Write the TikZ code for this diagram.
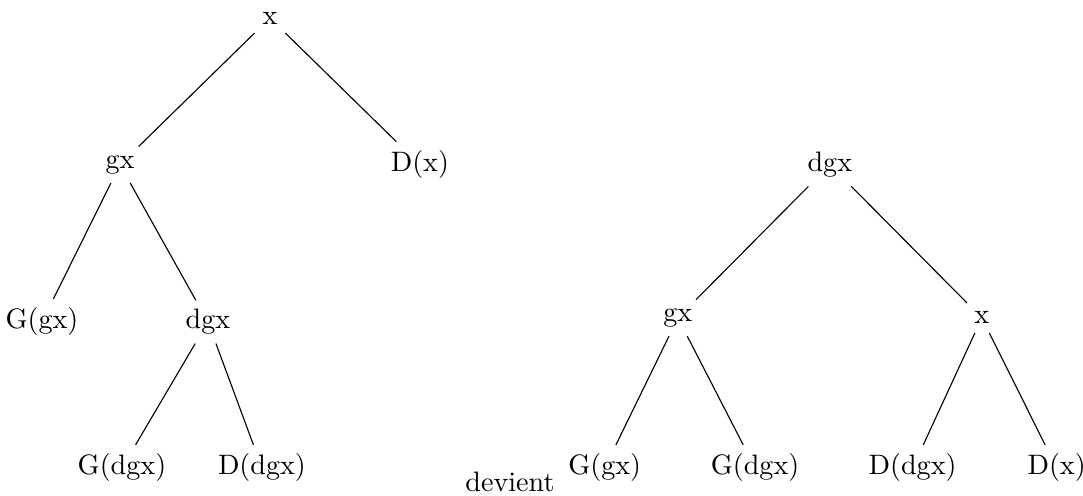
\documentclass[tikz,border=0pt]{standalone}
\usetikzlibrary{positioning}
\tikzset{
  tnode/.style={inner sep=3pt},
  edge/.style={thin}
}
\begin{document}
\begin{tikzpicture}
  \useasboundingbox (0,0) rectangle (13.54,-6.19);
  % first tree
  \node[tnode] (ax) at (3.375,-0.225) {x};
  \node[tnode] (agx) at (1.5,-2.06) {gx};
  \node[tnode] (aDx) at (5.25,-2.06) {D(x)};
  \node[tnode] (aGgx) at (0.525,-4.025) {G(gx)};
  \node[tnode] (adgx) at (2.6,-4.025) {dgx};
  \node[tnode] (aGdgx) at (1.525,-5.85) {G(dgx)};
  \node[tnode] (aDdgx) at (3.275,-5.85) {D(dgx)};

  \foreach \a/\b in {ax/agx, ax/aDx, agx/aGgx, agx/adgx, adgx/aGdgx, adgx/aDdgx}
    \draw[edge] (\a)--(\b);

  \node[tnode] (dev) at (6.375,-6.03) {devient};

  % second tree
  \node[tnode] (bdgx) at (10.375,-2.06) {dgx};
  \node[tnode] (bgx) at (8.475,-3.975) {gx};
  \node[tnode] (bx) at (12.275,-3.975) {x};
  \node[tnode] (bGgx) at (7.56,-5.85) {G(gx)};
  \node[tnode] (bGdgx) at (9.44,-5.85) {G(dgx)};
  \node[tnode] (bDdgx) at (11.41,-5.85) {D(dgx)};
  \node[tnode] (bDx) at (13.21,-5.85) {D(x)};

  \foreach \a/\b in {bdgx/bgx, bdgx/bx, bgx/bGgx, bgx/bGdgx, bx/bDdgx, bx/bDx}
    \draw[edge] (\a)--(\b);
\end{tikzpicture}
\end{document}
